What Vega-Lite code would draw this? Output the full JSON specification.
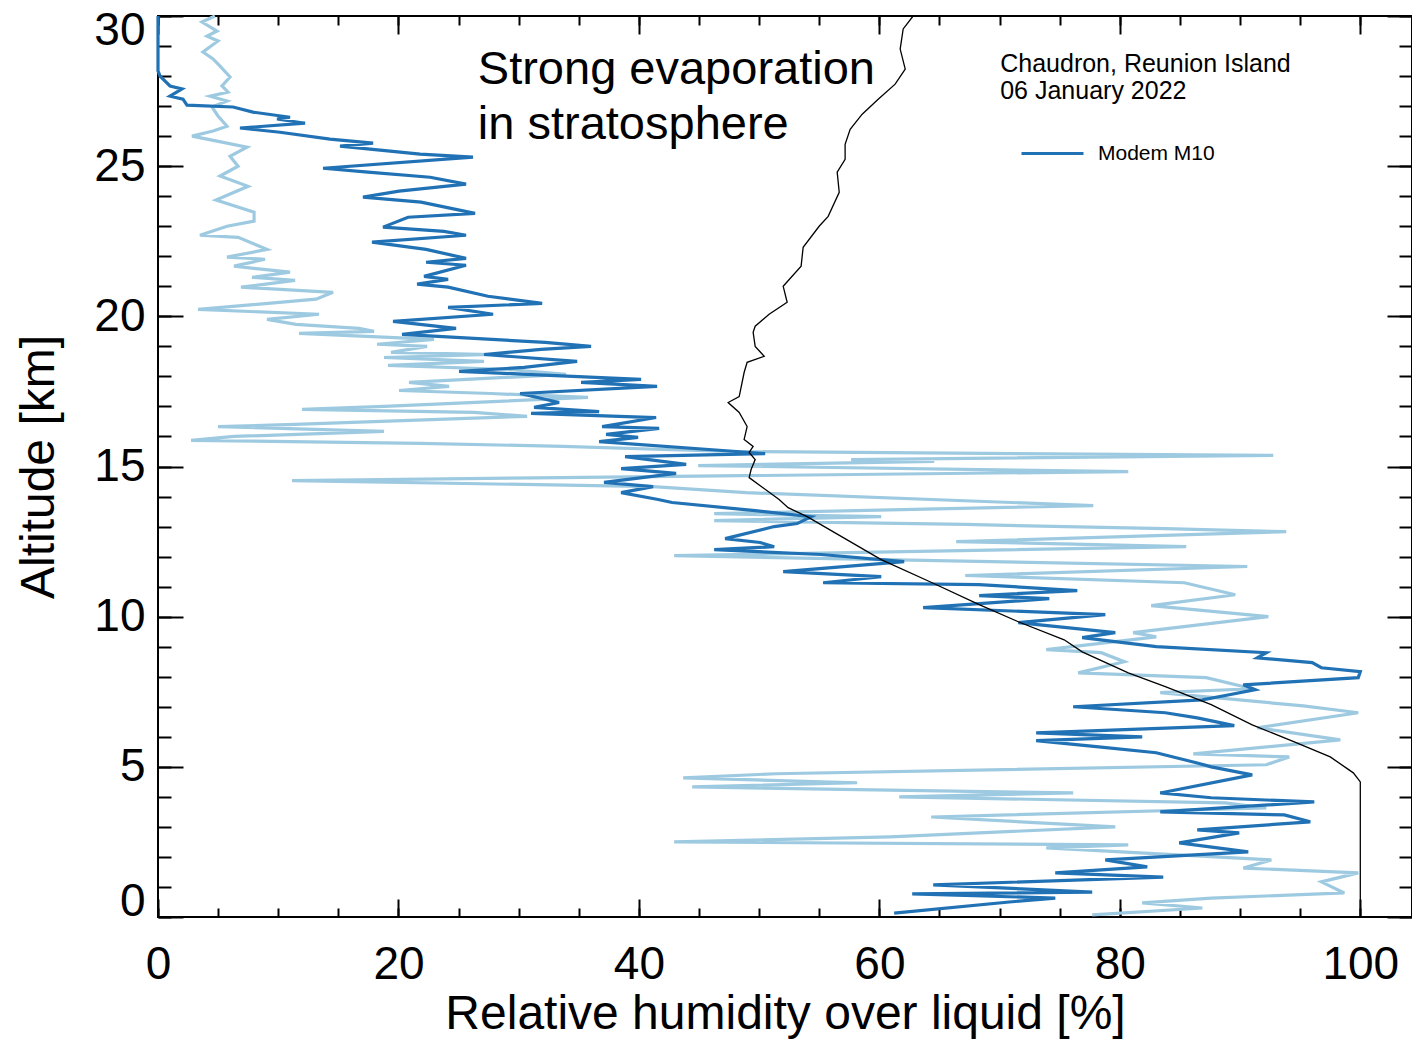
{
"$schema":"https://vega.github.io/schema/vega-lite/v6.json",
"autosize":{"type":"none"},
"padding":{"left":158,"top":16,"right":0,"bottom":124},
"width":1254,"height":901,
"background":"white",
"config":{"view":{"stroke":"black","strokeWidth":2},"font":"Liberation Sans","axis":{"grid":false,"domain":false,"tickColor":"black","tickWidth":2,"labelFont":"Liberation Sans","titleFont":"Liberation Sans","labelColor":"black","titleColor":"black","titleFontWeight":"normal"}},
"datasets":{
"light":[{"alt":30.0,"rh":4.74},{"alt":29.8,"rh":3.66},{"alt":29.5,"rh":4.91},{"alt":29.33,"rh":4.08},{"alt":29.17,"rh":4.99},{"alt":28.8,"rh":3.74},{"alt":28.57,"rh":4.58},{"alt":28.33,"rh":5.16},{"alt":27.97,"rh":5.99},{"alt":27.67,"rh":5.32},{"alt":27.47,"rh":5.82},{"alt":27.33,"rh":4.33},{"alt":27.17,"rh":5.74},{"alt":26.97,"rh":4.49},{"alt":26.67,"rh":4.99},{"alt":26.33,"rh":5.74},{"alt":26.17,"rh":4.58},{"alt":26.0,"rh":2.83},{"alt":25.9,"rh":4.08},{"alt":25.63,"rh":7.4},{"alt":25.33,"rh":5.99},{"alt":25.0,"rh":6.66},{"alt":24.67,"rh":5.16},{"alt":24.33,"rh":7.49},{"alt":23.87,"rh":4.83},{"alt":23.47,"rh":7.99},{"alt":23.17,"rh":7.99},{"alt":23.0,"rh":5.74},{"alt":22.7,"rh":3.49},{"alt":22.63,"rh":6.66},{"alt":22.23,"rh":9.07},{"alt":21.97,"rh":5.74},{"alt":21.9,"rh":8.9},{"alt":21.67,"rh":6.32},{"alt":21.47,"rh":10.98},{"alt":21.3,"rh":7.82},{"alt":21.2,"rh":11.4},{"alt":20.97,"rh":6.9},{"alt":20.8,"rh":14.56},{"alt":20.57,"rh":13.14},{"alt":20.23,"rh":3.33},{"alt":20.07,"rh":13.39},{"alt":19.9,"rh":9.07},{"alt":19.73,"rh":11.48},{"alt":19.6,"rh":16.72},{"alt":19.5,"rh":17.97},{"alt":19.43,"rh":11.73},{"alt":19.23,"rh":22.96},{"alt":19.07,"rh":18.22},{"alt":19.0,"rh":22.38},{"alt":18.8,"rh":19.38},{"alt":18.73,"rh":27.7},{"alt":18.63,"rh":18.8},{"alt":18.5,"rh":27.12},{"alt":18.37,"rh":19.13},{"alt":18.23,"rh":29.2},{"alt":18.07,"rh":33.94},{"alt":17.8,"rh":20.88},{"alt":17.67,"rh":24.21},{"alt":17.53,"rh":20.05},{"alt":17.43,"rh":27.7},{"alt":17.3,"rh":35.77},{"alt":17.0,"rh":18.8},{"alt":16.9,"rh":11.98},{"alt":16.8,"rh":26.29},{"alt":16.67,"rh":30.7},{"alt":16.4,"rh":11.4},{"alt":16.33,"rh":4.99},{"alt":16.17,"rh":18.8},{"alt":16.0,"rh":6.32},{"alt":15.87,"rh":2.75},{"alt":15.77,"rh":21.8},{"alt":15.67,"rh":33.69},{"alt":15.5,"rh":47.59},{"alt":15.37,"rh":92.76},{"alt":15.23,"rh":57.65},{"alt":15.17,"rh":64.56},{"alt":15.03,"rh":44.93},{"alt":14.83,"rh":80.7},{"alt":14.63,"rh":33.44},{"alt":14.53,"rh":11.15},{"alt":14.33,"rh":41.18},{"alt":14.13,"rh":48.92},{"alt":13.7,"rh":77.79},{"alt":13.43,"rh":46.26},{"alt":13.33,"rh":60.15},{"alt":13.2,"rh":46.26},{"alt":13.07,"rh":67.14},{"alt":12.93,"rh":83.78},{"alt":12.83,"rh":93.84},{"alt":12.5,"rh":66.39},{"alt":12.33,"rh":85.52},{"alt":12.03,"rh":42.93},{"alt":11.67,"rh":90.6},{"alt":11.37,"rh":67.14},{"alt":11.13,"rh":85.36},{"alt":10.73,"rh":89.6},{"alt":10.37,"rh":82.61},{"alt":10.0,"rh":92.35},{"alt":9.47,"rh":81.11},{"alt":9.33,"rh":83.03},{"alt":8.9,"rh":73.88},{"alt":8.8,"rh":78.45},{"alt":8.5,"rh":80.37},{"alt":8.13,"rh":76.54},{"alt":7.97,"rh":87.19},{"alt":7.6,"rh":91.01},{"alt":7.47,"rh":83.36},{"alt":7.03,"rh":95.26},{"alt":6.8,"rh":99.83},{"alt":6.3,"rh":91.43},{"alt":5.9,"rh":98.34},{"alt":5.43,"rh":86.11},{"alt":5.33,"rh":94.09},{"alt":5.07,"rh":92.18},{"alt":4.77,"rh":51.33},{"alt":4.63,"rh":43.68},{"alt":4.47,"rh":58.15},{"alt":4.33,"rh":44.43},{"alt":4.13,"rh":76.12},{"alt":4.0,"rh":61.65},{"alt":3.8,"rh":88.77},{"alt":3.63,"rh":92.18},{"alt":3.33,"rh":64.31},{"alt":3.0,"rh":79.62},{"alt":2.67,"rh":60.9},{"alt":2.5,"rh":42.93},{"alt":2.4,"rh":80.7},{"alt":2.3,"rh":73.88},{"alt":1.9,"rh":92.6},{"alt":1.63,"rh":90.27},{"alt":1.47,"rh":99.83},{"alt":1.17,"rh":96.76},{"alt":0.8,"rh":98.67},{"alt":0.63,"rh":87.6},{"alt":0.47,"rh":81.86},{"alt":0.3,"rh":86.86},{"alt":0.07,"rh":77.7}],
"dark":[{"alt":30.0,"rh":0},{"alt":28.17,"rh":0},{"alt":28.0,"rh":0.17},{"alt":27.67,"rh":1.0},{"alt":27.57,"rh":2.0},{"alt":27.33,"rh":1.0},{"alt":27.23,"rh":2.08},{"alt":27.03,"rh":2.41},{"alt":26.97,"rh":6.24},{"alt":26.8,"rh":7.9},{"alt":26.63,"rh":10.98},{"alt":26.57,"rh":9.9},{"alt":26.43,"rh":12.23},{"alt":26.27,"rh":6.82},{"alt":26.13,"rh":10.15},{"alt":25.9,"rh":14.3},{"alt":25.77,"rh":17.89},{"alt":25.67,"rh":15.14},{"alt":25.4,"rh":21.8},{"alt":25.3,"rh":26.2},{"alt":24.93,"rh":13.73},{"alt":24.8,"rh":17.47},{"alt":24.63,"rh":22.63},{"alt":24.4,"rh":25.62},{"alt":24.17,"rh":20.05},{"alt":23.97,"rh":17.05},{"alt":23.8,"rh":21.88},{"alt":23.43,"rh":26.37},{"alt":23.3,"rh":20.8},{"alt":22.97,"rh":18.72},{"alt":22.83,"rh":23.79},{"alt":22.7,"rh":25.62},{"alt":22.47,"rh":17.8},{"alt":22.23,"rh":22.3},{"alt":21.93,"rh":25.62},{"alt":21.8,"rh":22.3},{"alt":21.7,"rh":25.62},{"alt":21.33,"rh":22.13},{"alt":21.23,"rh":24.13},{"alt":21.07,"rh":21.55},{"alt":20.97,"rh":24.13},{"alt":20.67,"rh":27.45},{"alt":20.43,"rh":31.95},{"alt":20.3,"rh":24.13},{"alt":20.07,"rh":27.87},{"alt":19.83,"rh":19.55},{"alt":19.73,"rh":21.8},{"alt":19.6,"rh":24.79},{"alt":19.4,"rh":20.3},{"alt":19.13,"rh":32.2},{"alt":19.0,"rh":36.02},{"alt":18.9,"rh":31.86},{"alt":18.73,"rh":27.12},{"alt":18.5,"rh":34.86},{"alt":18.3,"rh":30.45},{"alt":18.17,"rh":25.04},{"alt":18.07,"rh":30.7},{"alt":17.9,"rh":40.18},{"alt":17.8,"rh":35.19},{"alt":17.67,"rh":41.51},{"alt":17.43,"rh":30.12},{"alt":17.13,"rh":33.36},{"alt":16.97,"rh":31.28},{"alt":16.83,"rh":36.69},{"alt":16.77,"rh":31.03},{"alt":16.63,"rh":41.43},{"alt":16.33,"rh":36.94},{"alt":16.27,"rh":41.68},{"alt":16.07,"rh":37.27},{"alt":15.97,"rh":39.93},{"alt":15.83,"rh":36.69},{"alt":15.43,"rh":50.5},{"alt":15.33,"rh":38.85},{"alt":15.07,"rh":43.93},{"alt":14.93,"rh":38.52},{"alt":14.77,"rh":43.09},{"alt":14.47,"rh":37.1},{"alt":14.33,"rh":41.18},{"alt":14.13,"rh":38.52},{"alt":13.9,"rh":41.6},{"alt":13.8,"rh":42.76},{"alt":13.53,"rh":49.67},{"alt":13.33,"rh":54.33},{"alt":13.1,"rh":53.16},{"alt":13.0,"rh":51.25},{"alt":12.6,"rh":47.17},{"alt":12.47,"rh":50.08},{"alt":12.33,"rh":51.25},{"alt":12.23,"rh":46.26},{"alt":12.07,"rh":55.16},{"alt":11.83,"rh":62.06},{"alt":11.5,"rh":52.0},{"alt":11.33,"rh":60.15},{"alt":11.13,"rh":55.32},{"alt":11.07,"rh":68.3},{"alt":10.87,"rh":76.46},{"alt":10.7,"rh":68.3},{"alt":10.6,"rh":74.13},{"alt":10.3,"rh":63.64},{"alt":10.07,"rh":78.79},{"alt":9.8,"rh":71.55},{"alt":9.47,"rh":79.62},{"alt":9.3,"rh":76.87},{"alt":9.0,"rh":83.03},{"alt":8.8,"rh":92.18},{"alt":8.63,"rh":91.43},{"alt":8.47,"rh":96.0},{"alt":8.3,"rh":96.76},{"alt":8.17,"rh":100.0},{"alt":7.97,"rh":99.83},{"alt":7.73,"rh":90.27},{"alt":7.57,"rh":91.26},{"alt":7.4,"rh":89.1},{"alt":7.23,"rh":86.86},{"alt":7.0,"rh":76.12},{"alt":6.8,"rh":83.78},{"alt":6.63,"rh":86.44},{"alt":6.37,"rh":89.52},{"alt":6.13,"rh":73.04},{"alt":6.0,"rh":81.86},{"alt":5.87,"rh":73.04},{"alt":5.67,"rh":78.04},{"alt":5.47,"rh":83.03},{"alt":5.13,"rh":86.44},{"alt":5.0,"rh":87.6},{"alt":4.73,"rh":91.01},{"alt":4.13,"rh":83.36},{"alt":3.97,"rh":87.6},{"alt":3.83,"rh":96.17},{"alt":3.5,"rh":83.36},{"alt":3.4,"rh":93.68},{"alt":3.17,"rh":95.84},{"alt":2.9,"rh":86.44},{"alt":2.8,"rh":89.93},{"alt":2.47,"rh":84.94},{"alt":2.17,"rh":90.68},{"alt":1.9,"rh":78.79},{"alt":1.67,"rh":82.28},{"alt":1.47,"rh":74.63},{"alt":1.33,"rh":83.61},{"alt":1.07,"rh":64.48},{"alt":0.83,"rh":77.7},{"alt":0.77,"rh":62.73},{"alt":0.63,"rh":74.63},{"alt":0.5,"rh":70.8},{"alt":0.13,"rh":61.23}],
"black":[{"alt":30.0,"rh":62.81},{"alt":29.57,"rh":61.98},{"alt":28.9,"rh":61.73},{"alt":28.23,"rh":62.15},{"alt":27.73,"rh":61.31},{"alt":27.23,"rh":59.9},{"alt":26.73,"rh":58.57},{"alt":26.23,"rh":57.57},{"alt":25.73,"rh":57.15},{"alt":25.23,"rh":57.15},{"alt":24.8,"rh":56.49},{"alt":24.13,"rh":56.66},{"alt":23.33,"rh":55.74},{"alt":23.0,"rh":54.99},{"alt":22.3,"rh":53.66},{"alt":21.67,"rh":53.49},{"alt":21.0,"rh":52.0},{"alt":20.47,"rh":52.33},{"alt":20.07,"rh":50.83},{"alt":19.67,"rh":49.67},{"alt":19.47,"rh":49.5},{"alt":19.0,"rh":49.67},{"alt":18.67,"rh":50.42},{"alt":18.47,"rh":49.0},{"alt":18.13,"rh":48.75},{"alt":17.33,"rh":48.34},{"alt":17.13,"rh":47.42},{"alt":16.8,"rh":48.34},{"alt":16.33,"rh":49.0},{"alt":15.9,"rh":48.75},{"alt":15.67,"rh":49.5},{"alt":15.47,"rh":49.17},{"alt":15.23,"rh":49.67},{"alt":14.9,"rh":49.33},{"alt":14.63,"rh":49.17},{"alt":13.9,"rh":51.66},{"alt":13.63,"rh":52.41},{"alt":13.33,"rh":53.99},{"alt":11.9,"rh":60.15},{"alt":11.13,"rh":64.39},{"alt":10.4,"rh":68.3},{"alt":9.83,"rh":71.55},{"alt":9.23,"rh":75.37},{"alt":8.83,"rh":76.87},{"alt":8.13,"rh":80.7},{"alt":7.67,"rh":83.78},{"alt":7.07,"rh":87.6},{"alt":6.4,"rh":91.01},{"alt":5.83,"rh":94.51},{"alt":5.33,"rh":97.5},{"alt":4.8,"rh":99.42},{"alt":4.5,"rh":100},{"alt":0,"rh":100}],
"bignote":[{"rh":26.6,"alt":27.73,"text":"Strong evaporation"},{"rh":26.6,"alt":25.9,"text":"in stratosphere"}],
"smallnote":[{"rh":70.05,"alt":28.12,"text":"Chaudron, Reunion Island"},{"rh":70.05,"alt":27.25,"text":"06 January 2022"}]
},
"layer":[
{"data":{"name":"light"},
 "mark":{"type":"line","color":"#9ecae1","strokeWidth":3.2,"strokeJoin":"miter"},
 "encoding":{
  "x":{"field":"rh","type":"quantitative","scale":{"domain":[0,104.3],"nice":false,"zero":false},
       "axis":{"orient":"bottom","values":[0,20,40,60,80,100],"tickSize":-18,"labelFontSize":46,"labelPadding":43,"labelFlush":false,"labelOverlap":false,"title":"Relative humidity over liquid [%]","titleFontSize":48,"titlePadding":3}},
  "y":{"field":"alt","type":"quantitative","scale":{"domain":[0,30],"nice":false,"zero":false},
       "axis":{"orient":"left","values":[0,5,10,15,20,25,30],"tickSize":-25,"labelFontSize":46,"labelPadding":38,"labelFlush":true,"labelFlushOffset":8,"labelOverlap":false,"title":"Altitude [km]","titleFontSize":48,"titlePadding":30}},
  "order":{"field":"alt","sort":"descending"}}},
{"data":{"name":"dark"},
 "mark":{"type":"line","strokeWidth":3.2,"strokeJoin":"miter"},
 "encoding":{
  "x":{"field":"rh","type":"quantitative","axis":{"orient":"bottom","values":[0,5,10,15,20,25,30,35,40,45,50,55,60,65,70,75,80,85,90,95,100],"tickSize":-9,"labels":false,"title":null}},
  "y":{"field":"alt","type":"quantitative","axis":{"orient":"left","values":[0,1,2,3,4,5,6,7,8,9,10,11,12,13,14,15,16,17,18,19,20,21,22,23,24,25,26,27,28,29,30],"tickSize":-13,"labels":false,"title":null}},
  "color":{"datum":"Modem M10","type":"nominal","scale":{"domain":["Modem M10"],"range":["#2171b5"]},
    "legend":{"orient":"none","legendX":862,"legendY":105,"title":null,"symbolType":"stroke","symbolSize":3844,"symbolStrokeWidth":3,"labelFontSize":21,"labelFont":"Liberation Sans","labelColor":"black","labelOffset":13,"padding":0}},
  "order":{"field":"alt","sort":"descending"}}},
{"data":{"name":"black"},
 "mark":{"type":"line","color":"black","strokeWidth":1.3},
 "encoding":{
  "x":{"field":"rh","type":"quantitative","axis":{"orient":"top","values":[0,20,40,60,80,100],"tickSize":-18,"labels":false,"title":null}},
  "y":{"field":"alt","type":"quantitative","axis":{"orient":"right","values":[0,5,10,15,20,25,30],"tickSize":-25,"labels":false,"title":null}},
  "order":{"field":"alt","sort":"descending"}}},
{"data":{"name":"bignote"},
 "mark":{"type":"text","align":"left","baseline":"alphabetic","fontSize":47,"font":"Liberation Sans","color":"black"},
 "encoding":{
  "x":{"field":"rh","type":"quantitative","axis":{"orient":"top","values":[0,5,10,15,20,25,30,35,40,45,50,55,60,65,70,75,80,85,90,95,100],"tickSize":-9,"labels":false,"title":null}},
  "y":{"field":"alt","type":"quantitative","axis":{"orient":"right","values":[0,1,2,3,4,5,6,7,8,9,10,11,12,13,14,15,16,17,18,19,20,21,22,23,24,25,26,27,28,29,30],"tickSize":-13,"labels":false,"title":null}},
  "text":{"field":"text"}}},
{"data":{"name":"smallnote"},
 "mark":{"type":"text","align":"left","baseline":"alphabetic","fontSize":25,"font":"Liberation Sans","color":"black"},
 "encoding":{
  "x":{"field":"rh","type":"quantitative","axis":null},
  "y":{"field":"alt","type":"quantitative","axis":null},
  "text":{"field":"text"}}}
],
"resolve":{"axis":{"x":"independent","y":"independent"}}
}
